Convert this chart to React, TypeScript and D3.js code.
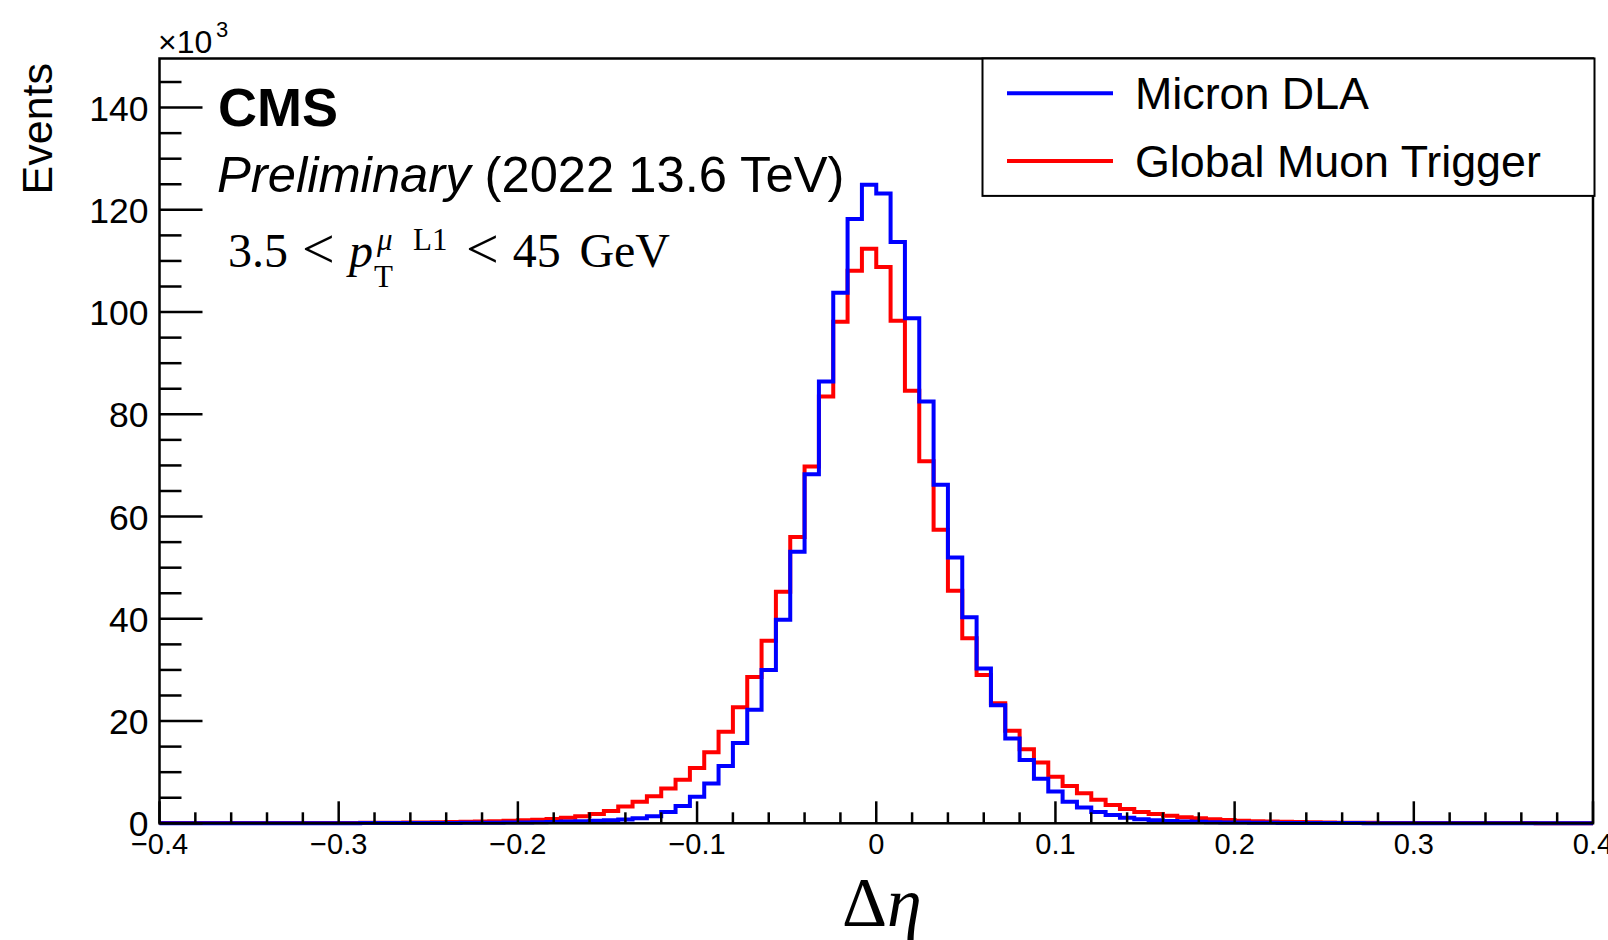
import React from 'react';
import * as d3 from 'd3';

const W = 1608;
const H = 940;

// Histogram binning: 100 bins over [-0.4, 0.4]
const X_MIN = -0.4;
const X_MAX = 0.4;
const N_BINS = 100;
const Y_MAX = 149.6; // in units of 10^3 events

// Micron DLA (x10^3 events per bin)
const micronDLA = [
  0.02, 0.02, 0.02, 0.02, 0.02, 0.02, 0.02, 0.02, 0.03, 0.03,
  0.03, 0.03, 0.03, 0.03, 0.04, 0.04, 0.05, 0.05, 0.06, 0.07,
  0.08, 0.09, 0.11, 0.13, 0.15, 0.18, 0.22, 0.27, 0.33, 0.4,
  0.5, 0.6, 0.75, 1.0, 1.4, 2.2, 3.4, 5.2, 7.8, 11.2,
  15.7, 22.2, 30.0, 39.8, 53.1, 68.3, 86.4, 103.8, 118.2, 124.9,
  123.2, 113.7, 98.8, 82.5, 66.2, 52.0, 40.3, 30.3, 23.1, 16.6,
  12.4, 8.7, 6.2, 4.2, 3.1, 2.2, 1.6, 1.1, 0.8, 0.6,
  0.45, 0.35, 0.28, 0.22, 0.18, 0.14, 0.11, 0.09, 0.07, 0.06,
  0.05, 0.05, 0.04, 0.04, 0.03, 0.03, 0.03, 0.03, 0.02, 0.02,
  0.02, 0.02, 0.02, 0.02, 0.02, 0.02, 0.02, 0.02, 0.02, 0.02,
];

// Global Muon Trigger (x10^3 events per bin)
const globalMuonTrigger = [
  0.04, 0.04, 0.04, 0.05, 0.05, 0.05, 0.05, 0.06, 0.06, 0.06,
  0.07, 0.07, 0.08, 0.08, 0.09, 0.1, 0.12, 0.14, 0.17, 0.2,
  0.24, 0.28, 0.33, 0.4, 0.48, 0.58, 0.7, 0.85, 1.1, 1.4,
  1.8, 2.4, 3.3, 4.2, 5.3, 6.8, 8.5, 10.8, 13.9, 17.9,
  22.7, 28.6, 35.7, 45.3, 56.0, 69.8, 83.5, 98.1, 108.1, 112.4,
  108.8, 98.3, 84.6, 70.8, 57.4, 45.5, 36.2, 29.0, 23.5, 18.1,
  14.5, 11.9, 9.1, 7.3, 5.9, 4.6, 3.6, 2.8, 2.2, 1.8,
  1.5, 1.2, 1.0, 0.8, 0.65, 0.52, 0.42, 0.34, 0.28, 0.23,
  0.19, 0.16, 0.13, 0.11, 0.09, 0.08, 0.07, 0.06, 0.06, 0.05,
  0.05, 0.05, 0.04, 0.04, 0.04, 0.04, 0.03, 0.03, 0.03, 0.03,
];

const xMajorTicks = [-0.4, -0.3, -0.2, -0.1, 0, 0.1, 0.2, 0.3, 0.4];
const xTickLabels = ['\u22120.4', '\u22120.3', '\u22120.2', '\u22120.1', '0', '0.1', '0.2', '0.3', '0.4'];
const yMajorTicks = [0, 20, 40, 60, 80, 100, 120, 140];
const yTickLabels = ['0', '20', '40', '60', '80', '100', '120', '140'];

const seriesNames = ['Micron DLA', 'Global Muon Trigger'];
const seriesColors = ['#0000ff', '#ff0000'];

const SANS = '"Liberation Sans", Arial, Helvetica, sans-serif';
const SERIF = '"Liberation Serif", "Times New Roman", serif';

export default function App() {
  const left = 159.5;
  const right = 1593;
  const top = 58.5;
  const bottom = 823.3;

  const x = d3.scaleLinear().domain([X_MIN, X_MAX]).range([left, right]);
  const y = d3.scaleLinear().domain([0, Y_MAX]).range([bottom, top]);

  const binW = (X_MAX - X_MIN) / N_BINS;
  const stepPoints = (vals: number[]) => {
    const pts: [number, number][] = [];
    vals.forEach((v, i) => {
      const lo = X_MIN + i * binW;
      const hi = lo + binW;
      pts.push([x(lo), y(v)]);
      pts.push([x(hi), y(v)]);
    });
    return pts;
  };
  const line = d3.line<[number, number]>().x((d) => d[0]).y((d) => d[1]);

  const xMinor = d3.range(-0.4, 0.4001, 0.02).map((v) => Math.round(v * 100) / 100)
    .filter((v) => !xMajorTicks.some((m) => Math.abs(m - v) < 1e-6));
  const yMinor = d3.range(0, Y_MAX, 5).filter((v) => v % 20 !== 0);

  return (
    <svg width={W} height={H} style={{ position: 'absolute', left: 0, top: 0, background: '#fff' }}>
      <rect x={0} y={0} width={W} height={H} fill="#fff" />
      {/* histograms */}
      <path d={line(stepPoints(globalMuonTrigger)) || ''} fill="none" stroke={seriesColors[1]} strokeWidth={4} strokeLinejoin="miter" />
      <path d={line(stepPoints(micronDLA)) || ''} fill="none" stroke={seriesColors[0]} strokeWidth={4} strokeLinejoin="miter" />

      {/* frame */}
      <rect x={left} y={top} width={right - left} height={bottom - top} fill="none" stroke="#000" strokeWidth={2.5} />

      {/* y ticks */}
      {yMajorTicks.map((v) => (
        <line key={'ym' + v} x1={left} x2={left + 43} y1={y(v)} y2={y(v)} stroke="#000" strokeWidth={2.5} />
      ))}
      {yMinor.map((v) => (
        <line key={'yn' + v} x1={left} x2={left + 22} y1={y(v)} y2={y(v)} stroke="#000" strokeWidth={2.5} />
      ))}
      {yMajorTicks.map((v, i) => (
        <text key={'yl' + v} x={148.5} y={y(v) + 13} textAnchor="end" fontFamily={SANS} fontSize={35.5} fill="#000">
          {yTickLabels[i]}
        </text>
      ))}

      {/* x ticks */}
      {xMajorTicks.map((v) => (
        <line key={'xm' + v} x1={x(v)} x2={x(v)} y1={bottom} y2={bottom - 22} stroke="#000" strokeWidth={2.5} />
      ))}
      {xMinor.map((v) => (
        <line key={'xn' + v} x1={x(v)} x2={x(v)} y1={bottom} y2={bottom - 11} stroke="#000" strokeWidth={2.5} />
      ))}
      {xMajorTicks.map((v, i) => (
        <text key={'xl' + v} x={x(v)} y={854} textAnchor="middle" fontFamily={SANS} fontSize={29} fill="#000">
          {xTickLabels[i]}
        </text>
      ))}

      {/* exponent */}
      <text x={158} y={53} fontFamily={SANS} fontSize={32} fill="#000">{'\u00d710'}</text>
      <text x={216} y={37} fontFamily={SANS} fontSize={22} fill="#000">3</text>

      {/* axis titles */}
      <text transform="translate(52,63) rotate(-90)" textAnchor="end" fontFamily={SANS} fontSize={43} fill="#000">Events</text>
      <text x={842} y={926} fontFamily={SERIF} fontSize={70} fill="#000">
        <tspan>{'\u0394'}</tspan>
        <tspan fontStyle="italic">{'\u03b7'}</tspan>
      </text>

      {/* CMS labels */}
      <text x={218} y={126} fontFamily={SANS} fontWeight="bold" fontSize={54} fill="#000">CMS</text>
      <text x={217} y={192} fontFamily={SANS} fontSize={50.7} fill="#000">
        <tspan fontStyle="italic">Preliminary</tspan>
        <tspan>{' (2022 13.6 TeV)'}</tspan>
      </text>

      {/* pT range label */}
      <text x={228} y={266.6} fontFamily={SERIF} fontSize={48} fill="#000">3.5</text>
      <text x={302} y={268} fontFamily={SERIF} fontSize={58} fill="#000">{'<'}</text>
      <text x={349} y={266.6} fontFamily={SERIF} fontSize={48} fontStyle="italic" fill="#000">p</text>
      <text x={377} y={250} fontFamily={SERIF} fontSize={31} fontStyle="italic" fill="#000">{'\u03bc'}</text>
      <text x={413} y={250} fontFamily={SERIF} fontSize={31} fill="#000">L1</text>
      <text x={374} y={287} fontFamily={SERIF} fontSize={31} fill="#000">T</text>
      <text x={466} y={268} fontFamily={SERIF} fontSize={58} fill="#000">{'<'}</text>
      <text x={512.8} y={266.6} fontFamily={SERIF} fontSize={48} fill="#000">45</text>
      <text x={579.4} y={266.6} fontFamily={SERIF} fontSize={48} fill="#000">GeV</text>

      {/* legend */}
      <rect x={982.5} y={58.5} width={612} height={137.4} fill="#fff" stroke="#000" strokeWidth={2} />
      {seriesNames.map((name, i) => (
        <g key={name}>
          <line x1={1007} x2={1113} y1={93.3 + i * 67.7} y2={93.3 + i * 67.7} stroke={seriesColors[i]} strokeWidth={4} />
          <text x={1135} y={109.2 + i * 67.7} fontFamily={SANS} fontSize={44.8} fill="#000">{name}</text>
        </g>
      ))}
    </svg>
  );
}
